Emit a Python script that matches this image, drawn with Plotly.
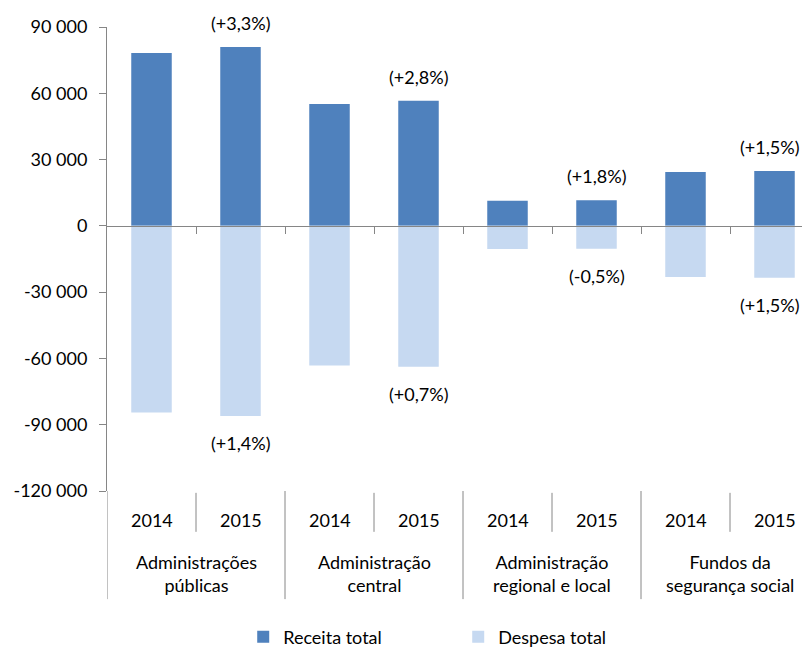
import plotly.graph_objects as go

groups = ["Administrações<br>públicas", "Administração<br>central",
          "Administração<br>regional e local", "Fundos da<br>segurança social"]
years = ["2014", "2015"] * 4
receita = [78200, 81000, 55200, 56600, 11400, 11600, 24400, 24800]
despesa = [-84500, -86000, -63200, -63800, -10450, -10400, -23100, -23450]
var_receita = ["", "(+3,3%)", "", "(+2,8%)", "", "(+1,8%)", "", "(+1,5%)"]
var_despesa = ["", "(+1,4%)", "", "(+0,7%)", "", "(-0,5%)", "", "(+1,5%)"]
y_ticks = [-120000, -90000, -60000, -30000, 0, 30000, 60000, 90000]
y_tick_text = ["-120 000", "-90 000", "-60 000", "-30 000", "0", "30 000", "60 000", "90 000"]

FONT = "Lato"
GRAY = "#868686"
xs = list(range(len(years)))

fig = go.Figure()
fig.add_trace(go.Bar(x=xs, y=receita, name="Receita total",
                     marker=dict(color="#4F81BD", line_width=0), width=0.455))
fig.add_trace(go.Bar(x=xs, y=despesa, name="Despesa total",
                     marker=dict(color="#C6D9F1", line_width=0), width=0.455))

# variation labels (2015 vs 2014)
ann = []
for i in xs:
    dx = -5 if i == len(xs) - 1 else 0
    if var_receita[i]:
        ann.append(dict(x=i, y=receita[i], text=var_receita[i], showarrow=False,
                        yanchor="middle", yshift=24, xshift=dx,
                        font=dict(size=18, color="black")))
    if var_despesa[i]:
        ann.append(dict(x=i, y=despesa[i], text=var_despesa[i], showarrow=False,
                        yanchor="middle", yshift=-27, xshift=dx,
                        font=dict(size=18, color="black")))

# year and group labels under the plot
for i in xs:
    ann.append(dict(x=i, y=-0.0625, xref="x", yref="paper", text=years[i],
                    yanchor="middle", showarrow=False, font=dict(size=18, color="black")))
for g, name in enumerate(groups):
    ann.append(dict(x=2 * g + 0.5, y=-0.177, xref="x", yref="paper", text=name,
                    yanchor="middle", showarrow=False, font=dict(size=18, color="black")))

shapes = []
for g in range(4):
    shapes.append(dict(type="line", xref="x", yref="paper", x0=2 * g - 0.5, x1=2 * g - 0.5,
                       y0=0, y1=-0.233, line=dict(color=GRAY, width=1)))
    shapes.append(dict(type="line", xref="x", yref="paper", x0=2 * g + 0.5, x1=2 * g + 0.5,
                       y0=-0.004, y1=-0.088, line=dict(color=GRAY, width=1)))

fig.update_layout(
    width=794, height=641,
    margin=dict(l=99, r=0, t=19, b=158, autoexpand=False),
    barmode="overlay",
    plot_bgcolor="white", paper_bgcolor="white",
    font=dict(family=FONT, size=18, color="black"),
    annotations=ann, shapes=shapes,
    showlegend=True,
    legend=dict(orientation="h", x=0.196, xanchor="left", y=-0.315, yanchor="middle",
                entrywidth=170, font=dict(size=18), traceorder="normal"),
    xaxis=dict(range=[-0.5, 7.309], anchor="free", position=4 / 7,
               showline=True, linecolor=GRAY, linewidth=1,
               tickmode="array", tickvals=[0.5, 1.5, 2.5, 3.5, 4.5, 5.5, 6.5],
               ticks="outside", ticklen=7, tickcolor=GRAY,
               showticklabels=False, showgrid=False, zeroline=False),
    yaxis=dict(range=[-120000, 90000], tickmode="array", tickvals=y_ticks,
               ticktext=y_tick_text, showline=True, linecolor=GRAY, linewidth=1,
               ticks="outside", ticklen=7, tickcolor=GRAY, ticklabelstandoff=8,
               showgrid=False, zeroline=False),
)

fig.write_html("out.html")
